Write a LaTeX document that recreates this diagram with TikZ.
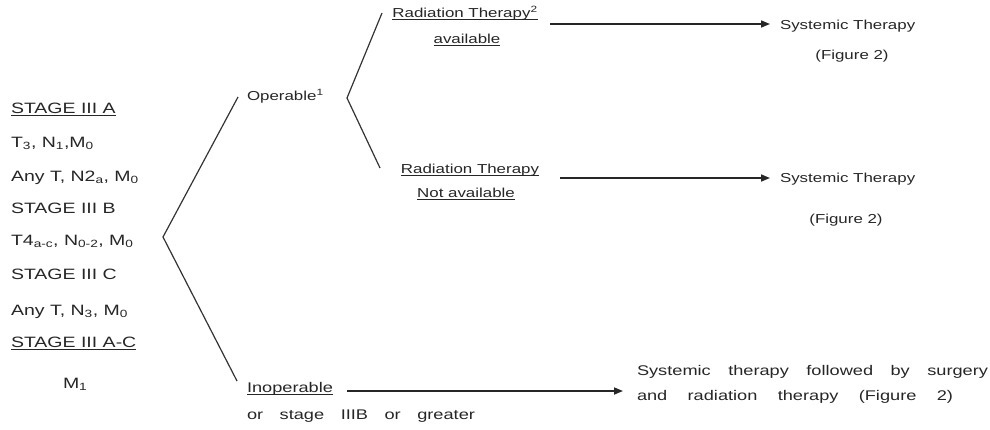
\documentclass[tikz,border=0pt]{standalone}
\usepackage{fontspec}
\setmainfont[FakeStretch=1.3]{Liberation Sans}
\usetikzlibrary{arrows.meta}
\newcommand\ulx[1]{\setbox0\hbox{#1}\rlap{\rule[-2.6pt]{\wd0}{1.1pt}}\box0}
\tikzset{
  txt/.style={inner sep=0pt, outer sep=0pt, anchor=base west, text=black!85},
  lft/.style={txt, font=\fontsize{15}{18}\selectfont},
  rt/.style={txt, font=\fontsize{13}{16}\selectfont},
  rtc/.style={rt, anchor=base},
  bt/.style={txt, font=\fontsize{14}{17}\selectfont},
  brk/.style={draw=black!80, line width=1.2pt},
  arr/.style={draw=black!85, line width=1.6pt, -{Triangle[length=9pt,width=7pt]}}
}
\begin{document}
\begin{tikzpicture}[x=1pt,y=-1pt]
\useasboundingbox (0,0) rectangle (990,429);
% left column
\node[lft] (s3a) at (11,113) {\ulx{STAGE III A}};
\node[lft] (t3) at (11,147) {T\textsubscript{3}, N\textsubscript{1},M\textsubscript{0}};
\node[lft] (anyt) at (11,181) {Any T, N2\textsubscript{a}, M\textsubscript{0}};
\node[lft] (s3b) at (11,213) {STAGE III B};
\node[lft] (t4) at (11,245) {T4\textsubscript{a-c}, N\textsubscript{0-2}, M\textsubscript{0}};
\node[lft] (s3c) at (11,279) {STAGE III C};
\node[lft] (anyt3) at (11,315) {Any T, N\textsubscript{3}, M\textsubscript{0}};
\node[lft] (s3ac) at (11,347) {\ulx{STAGE III A-C}};
\node[lft] (m1) at (63,388) {M\textsubscript{1}};
% middle
\node[rt] (op) at (247,100) {Operable\textsuperscript{1}};
\node[rtc] (rta1) at (465,17) {\ulx{Radiation Therapy\textsuperscript{2}}};
\node[rtc] (rta2) at (467,43) {\ulx{available}};
\node[rtc] (rtn1) at (470,173) {\ulx{Radiation Therapy}};
\node[rtc] (rtn2) at (466,197) {\ulx{Not available}};
\node[bt] (inop) at (247,392) {\ulx{Inoperable}};
\node[bt] (orst) at (247,419) {\makebox[228pt][s]{or stage IIIB or greater}};
% right
\node[rt] (st1) at (780,29) {Systemic Therapy};
\node[rtc] (fg1) at (852,59) {(Figure 2)};
\node[rt] (st2) at (780,182) {Systemic Therapy};
\node[rtc] (fg2) at (846,223) {(Figure 2)};
\node[bt] (bt1) at (637,375) {\makebox[351pt][s]{Systemic therapy followed by surgery}};
\node[bt] (bt2) at (637,400) {\makebox[316pt][s]{and radiation therapy (Figure 2)}};
% brackets
\coordinate (v1) at (163,237);
\coordinate (e1u) at (238,97);
\coordinate (e1d) at (237,381);
\coordinate (v2) at (347,98);
\coordinate (e2u) at (382,13);
\coordinate (e2d) at (380,168);
\draw[brk] (e1u) -- (v1) -- (e1d);
\draw[brk] (e2u) -- (v2) -- (e2d);
% arrows
\coordinate (a1s) at (550,24);
\coordinate (a1e) at (770,24);
\coordinate (a2s) at (560,178);
\coordinate (a2e) at (770,178);
\coordinate (a3s) at (347,391);
\coordinate (a3e) at (623,391);
\draw[arr] (a1s) -- (a1e);
\draw[arr] (a2s) -- (a2e);
\draw[arr] (a3s) -- (a3e);
\end{tikzpicture}
\end{document}
